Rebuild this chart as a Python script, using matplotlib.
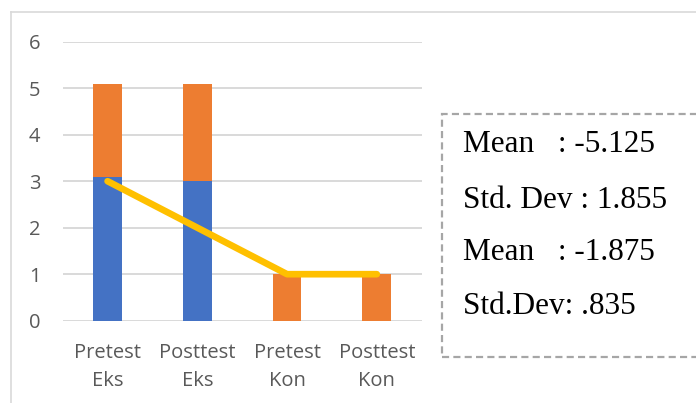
import matplotlib
matplotlib.use("Agg")
import matplotlib.pyplot as plt
from matplotlib.patches import Rectangle
from matplotlib.lines import Line2D

categories = ["Pretest\nEks", "Posttest\nEks", "Pretest\nKon", "Posttest\nKon"]
blue_values = [3.1, 3.0, 0.0, 0.0]
orange_values = [2.0, 2.1, 1.0, 1.0]
line_values = [3.0, 2.0, 1.0, 1.0]
y_ticks = [0, 1, 2, 3, 4, 5, 6]
stats_lines = ["Mean   : -5.125", "Std. Dev : 1.855", "Mean   : -1.875", "Std.Dev: .835"]

W, H = 696, 403
fig = plt.figure(figsize=(W / 100, H / 100), dpi=100)
fig.patch.set_facecolor("white")

ax = fig.add_axes([62.7 / W, (H - 320.7) / H, 359 / W, 279 / H])
x = list(range(len(categories)))
ax.bar(x, blue_values, width=0.32, color="#4472C4", zorder=2)
ax.bar(x, orange_values, width=0.32, bottom=blue_values, color="#ED7D31", zorder=2)
ax.plot(x, line_values, color="#FFC000", linewidth=4.8, solid_capstyle="round",
        solid_joinstyle="round", zorder=3)

ax.set_xlim(-0.5, 3.5)
ax.set_ylim(0, 6)
ax.set_yticks(y_ticks)
ax.set_xticks(x)
ax.set_xticklabels(categories, linespacing=1.55)
ax.yaxis.grid(True, color="#D9D9D9", linewidth=1.4, zorder=0)
ax.set_axisbelow(True)
for s in ax.spines.values():
    s.set_visible(False)
ax.tick_params(axis="both", length=0, colors="#595959", labelsize=14.5)
ax.tick_params(axis="y", pad=16)
ax.tick_params(axis="x", pad=16)
for lab in ax.get_xticklabels() + ax.get_yticklabels():
    lab.set_fontfamily("Open Sans")

# outer chart frame (left and top edges)
fig.add_artist(Line2D([11 / W, 11 / W], [0, (H - 12) / H], color="#D9D9D9", linewidth=1.2))
fig.add_artist(Line2D([11 / W, 1.0], [(H - 12) / H, (H - 12) / H], color="#D9D9D9", linewidth=1.2))

# dashed statistics box
box = Rectangle((442 / W, (H - 356.5) / H), 300 / W, 243 / H, transform=fig.transFigure,
                fill=False, edgecolor="#A6A6A6", linewidth=1.6, linestyle=(0, (3.2, 1.9)))
fig.add_artist(box)

ys = [145, 200, 253, 307]
for txt, yy in zip(stats_lines, ys):
    fig.text(463 / W, (H - yy) / H, txt, fontsize=22.5, family="Liberation Serif",
             color="black", va="center", ha="left")

fig.savefig("out.png", dpi=100)
